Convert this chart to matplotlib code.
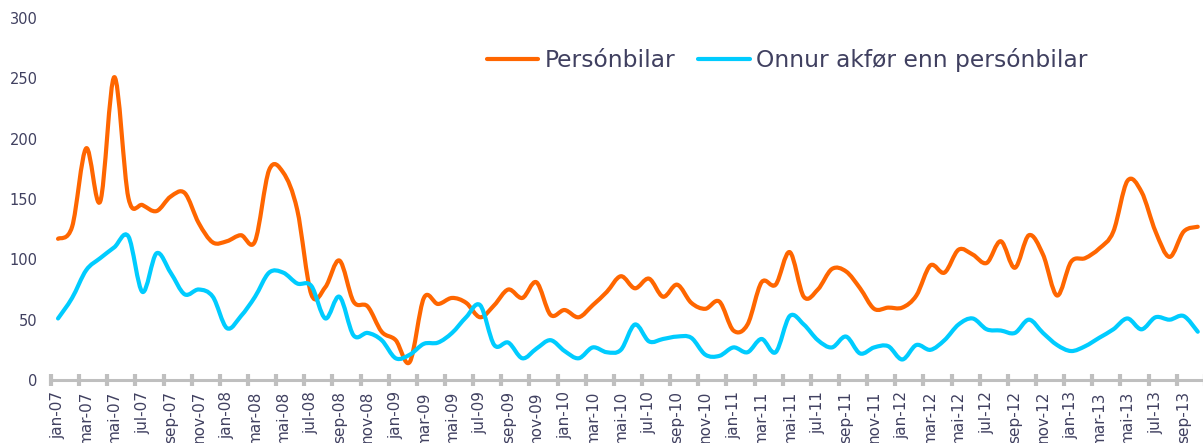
import numpy as np
import matplotlib
matplotlib.use("Agg")
import matplotlib.pyplot as plt
from matplotlib.path import Path
from matplotlib.patches import PathPatch
from matplotlib.lines import Line2D

# ---- data -------------------------------------------------------------
month_names = ["jan", "feb", "mar", "apr", "mai", "jun",
               "jul", "aug", "sep", "okt", "nov", "des"]
years = ["07", "08", "09", "10", "11", "12", "13"]
n_months = 82  # jan-07 .. okt-13
categories = [f"{month_names[i % 12]}-{years[i // 12]}" for i in range(n_months)]

personbilar = [
    117, 127, 192, 148, 251, 151, 145, 140, 152, 155, 130, 114,   # 2007
    115, 120, 115, 174, 172, 141, 71, 77, 99, 65, 61, 40,         # 2008
    33, 15, 68, 63, 68, 64, 52, 62, 75, 68, 81, 54,               # 2009
    58, 52, 62, 73, 86, 76, 84, 69, 79, 64, 59, 65,               # 2010
    41, 46, 81, 79, 106, 69, 75, 92, 90, 76, 59, 60,              # 2011
    60, 70, 95, 89, 108, 104, 97, 115, 93, 120, 104, 70,          # 2012
    98, 101, 109, 123, 165, 156, 123, 102, 123, 127,              # 2013
]
onnur = [
    51, 68, 91, 101, 110, 119, 73, 105, 89, 71, 75, 69,           # 2007
    43, 53, 69, 89, 89, 80, 78, 51, 69, 37, 39, 33,               # 2008
    18, 21, 30, 31, 39, 52, 62, 29, 31, 18, 26, 33,               # 2009
    24, 18, 27, 23, 25, 46, 32, 34, 36, 35, 21, 20,               # 2010
    27, 23, 34, 23, 53, 46, 33, 27, 36, 22, 27, 28,               # 2011
    17, 29, 25, 33, 46, 51, 42, 41, 39, 50, 39, 29,               # 2012
    24, 28, 35, 42, 51, 42, 52, 50, 53, 40,                       # 2013
]
series_names = ["Persónbilar", "Onnur akfør enn persónbilar"]
y_ticks = [0, 50, 100, 150, 200, 250, 300]

# ---- style ------------------------------------------------------------
ORANGE = "#FF6600"
CYAN = "#00CCFF"
TEXT = "#404060"
AXIS = "#BFBFBF"


def smooth_path(xs, ys):
    """Excel-like smoothed line: Catmull-Rom converted to cubic Beziers."""
    pts = np.column_stack([xs, ys]).astype(float)
    n = len(pts)
    verts = [pts[0]]
    codes = [Path.MOVETO]
    for i in range(n - 1):
        p0 = pts[i - 1] if i > 0 else pts[i]
        p1 = pts[i]
        p2 = pts[i + 1]
        p3 = pts[i + 2] if i + 2 < n else pts[i + 1]
        c1 = p1 + (p2 - p0) / 6.0
        c2 = p2 - (p3 - p1) / 6.0
        verts += [c1, c2, p2]
        codes += [Path.CURVE4] * 3
    return Path(verts, codes)


fig = plt.figure(figsize=(12.03, 4.43), dpi=100)
ax = fig.add_axes([51 / 1203, 63 / 443, 1153.8 / 1203, 362 / 443])

x = np.arange(n_months)
for vals, col in [(personbilar, ORANGE), (onnur, CYAN)]:
    patch = PathPatch(smooth_path(x, vals), fill=False, edgecolor=col,
                      lw=3.0, capstyle="round", joinstyle="round")
    ax.add_patch(patch)

ax.set_xlim(-0.5, n_months - 0.5)
ax.set_ylim(0, 300)

ax.set_yticks(y_ticks)
ax.tick_params(axis="y", length=0, pad=9.5, labelsize=10.5, labelcolor=TEXT)

ax.set_xticks(x[::2])
ax.set_xticklabels(categories[::2], rotation=90, fontsize=11, color=TEXT)
ax.set_xticks(np.arange(-0.5, n_months, 2), minor=True)
ax.tick_params(axis="x", which="major", length=0, pad=8)
ax.tick_params(axis="x", which="minor", length=9, width=3, color=AXIS,
               direction="inout")

for s in ["top", "right", "left"]:
    ax.spines[s].set_visible(False)
ax.spines["bottom"].set_color(AXIS)
ax.spines["bottom"].set_linewidth(2.2)

handles = [Line2D([], [], color=ORANGE, lw=3, solid_capstyle="round"),
           Line2D([], [], color=CYAN, lw=3, solid_capstyle="round")]
leg = ax.legend(handles, series_names, loc="center left",
                bbox_to_anchor=(0.378, 0.884), ncol=2, frameon=False,
                fontsize=16.8, handlelength=2.2, handletextpad=0.25,
                columnspacing=1.0, borderpad=0, borderaxespad=0)
for t in leg.get_texts():
    t.set_color(TEXT)

fig.savefig("out.png", dpi=100)
